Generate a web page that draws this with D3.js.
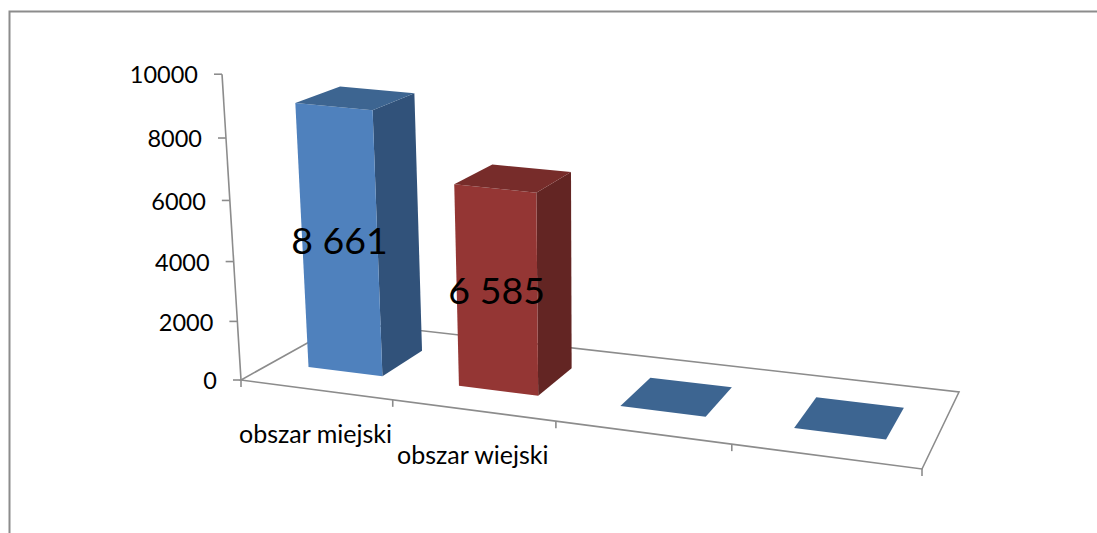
<!DOCTYPE html>
<html>
<head>
<meta charset="utf-8">
<script src="https://cdn.jsdelivr.net/npm/d3@7"></script>
<style>
html, body { margin: 0; padding: 0; background: #fff; overflow: hidden; }
text { font-family: Lato, sans-serif; fill: #000; }
</style>
</head>
<body>
<script>
//Chart values
var categories = ["obszar miejski", "obszar wiejski", "", ""];
var values = [8661, 6585, 0, 0];
var valueLabels = ["8 661", "6 585", "", ""];
var yTicks = [0, 2000, 4000, 6000, 8000, 10000];

//Width and height
var w = 1097;
var h = 533;

//Colors per bar: front, side, top
var fronts = ["#4f81bd", "#943634", "#4f81bd", "#4f81bd"];
var sides = ["#31527a", "#632523", "#31527a", "#31527a"];
var tops = ["#3d6591", "#772c2a", "#3d6591", "#3d6591"];

//Floor corners on screen: front left, front right, back right, back left
var floor = [[241, 380], [922, 469], [959, 392], [345, 322]];
//Vanishing point of the vertical lines, and how far a full height reaches
var vanish = [590, 6000];
var lift = -0.0516;

var sx = floor[0][0] - floor[1][0] + floor[2][0] - floor[3][0];
var sy = floor[0][1] - floor[1][1] + floor[2][1] - floor[3][1];
var dx1 = floor[1][0] - floor[2][0];
var dx2 = floor[3][0] - floor[2][0];
var dy1 = floor[1][1] - floor[2][1];
var dy2 = floor[3][1] - floor[2][1];
var det = dx1 * dy2 - dx2 * dy1;
var g = (sx * dy2 - dx2 * sy) / det;
var k = (dx1 * sy - sx * dy1) / det;

//u along the categories, v into the depth, t up the value axis (all 0 to 1)
function project(u, v, t) {
    var s = g * u + k * v + 1;
    var px = (floor[1][0] - floor[0][0] + g * floor[1][0]) * u + (floor[3][0] - floor[0][0] + k * floor[3][0]) * v + floor[0][0];
    var py = (floor[1][1] - floor[0][1] + g * floor[1][1]) * u + (floor[3][1] - floor[0][1] + k * floor[3][1]) * v + floor[0][1];
    //heights grow less to the right than the floor does, and shrink toward the back
    var c = lift * t * (s - g * u / 2 - 0.115 * v * v * v);
    return [(px + c * vanish[0]) / (s + c), (py + c * vanish[1]) / (s + c)];
}

var xBand = d3.scaleBand().domain(d3.range(categories.length)).range([0, 1]).paddingInner(0.5).paddingOuter(0.25);
var xOuter = d3.scaleBand().domain(d3.range(categories.length)).range([0, 1]);
var yScale = d3.scaleLinear().domain([0, 10000]).range([0, 1]);
var depth = d3.scaleLinear().domain([0, 1]).range([0.28, 0.70]);

var line = d3.line();

var svg = d3.select("body")
            .append("svg")
            .attr("width", w)
            .attr("height", h)
            .style("display", "block");

//Outer frame
svg.append("path")
   .attr("d", line([[9.5, h], [9.5, 11.5], [w, 11.5]]))
   .attr("fill", "none")
   .attr("stroke", "#8c8c8c")
   .attr("stroke-width", 2);

//Floor outline
var floorG = svg.append("g")
                .attr("fill", "none")
                .attr("stroke", "#8c8c8c")
                .attr("stroke-width", 1.6);

floorG.append("path")
      .attr("d", line([project(0, 0, 0), project(1, 0, 0), project(1, 1, 0), project(0, 1, 0)]) + "Z");

//Category ticks
d3.range(categories.length + 1).forEach(function(i) {
    var p = project(i / categories.length, 0, 0);
    floorG.append("path").attr("d", line([p, [p[0], p[1] + 7]]));
});

//Value axis
floorG.append("path").attr("d", line([project(0, 0, 0), project(0, 0, 1)]));

yTicks.forEach(function(d) {
    var p = project(0, 0, yScale(d));
    floorG.append("path").attr("d", line([p, [p[0] - 8, p[1]]]));
    svg.append("text")
       .attr("x", p[0] - 24)
       .attr("y", p[1] + 1)
       .attr("dy", "0.35em")
       .attr("text-anchor", "end")
       .style("font-size", "23.5px")
       .text(d);
});

//Bars, left to right
values.forEach(function(d, i) {
    var u0 = xBand(i);
    var u1 = xBand(i) + xBand.bandwidth();
    var v0 = depth(0);
    var v1 = depth(1);
    var t = yScale(d);

    var bar = svg.append("g");
    if (d > 0) {
        bar.append("path")
           .attr("d", line([project(u1, v0, 0), project(u1, v1, 0), project(u1, v1, t), project(u1, v0, t)]) + "Z")
           .attr("fill", sides[i]);
        bar.append("path")
           .attr("d", line([project(u0, v0, 0), project(u1, v0, 0), project(u1, v0, t), project(u0, v0, t)]) + "Z")
           .attr("fill", fronts[i]);
    }
    bar.append("path")
       .attr("d", line([project(u0, v0, t), project(u1, v0, t), project(u1, v1, t), project(u0, v1, t)]) + "Z")
       .attr("fill", tops[i]);
});

//Value labels sit in the middle of the front face
values.forEach(function(d, i) {
    if (!valueLabels[i]) return;
    var p = project(xBand(i) + xBand.bandwidth() / 2, depth(0), yScale(d) / 2);
    svg.append("text")
       .attr("x", p[0])
       .attr("y", p[1] - 1)
       .attr("dy", "0.35em")
       .attr("text-anchor", "middle")
       .style("font-size", "37.5px")
       .text(valueLabels[i]);
});

//Category labels
categories.forEach(function(d, i) {
    if (!d) return;
    var p = project(xOuter(i) + xOuter.bandwidth() / 2, 0, 0);
    svg.append("text")
       .attr("x", p[0])
       .attr("y", p[1] + 45)
       .attr("dy", "0.35em")
       .attr("text-anchor", "middle")
       .style("font-size", "25px")
       .text(d);
});
</script>
</body>
</html>
